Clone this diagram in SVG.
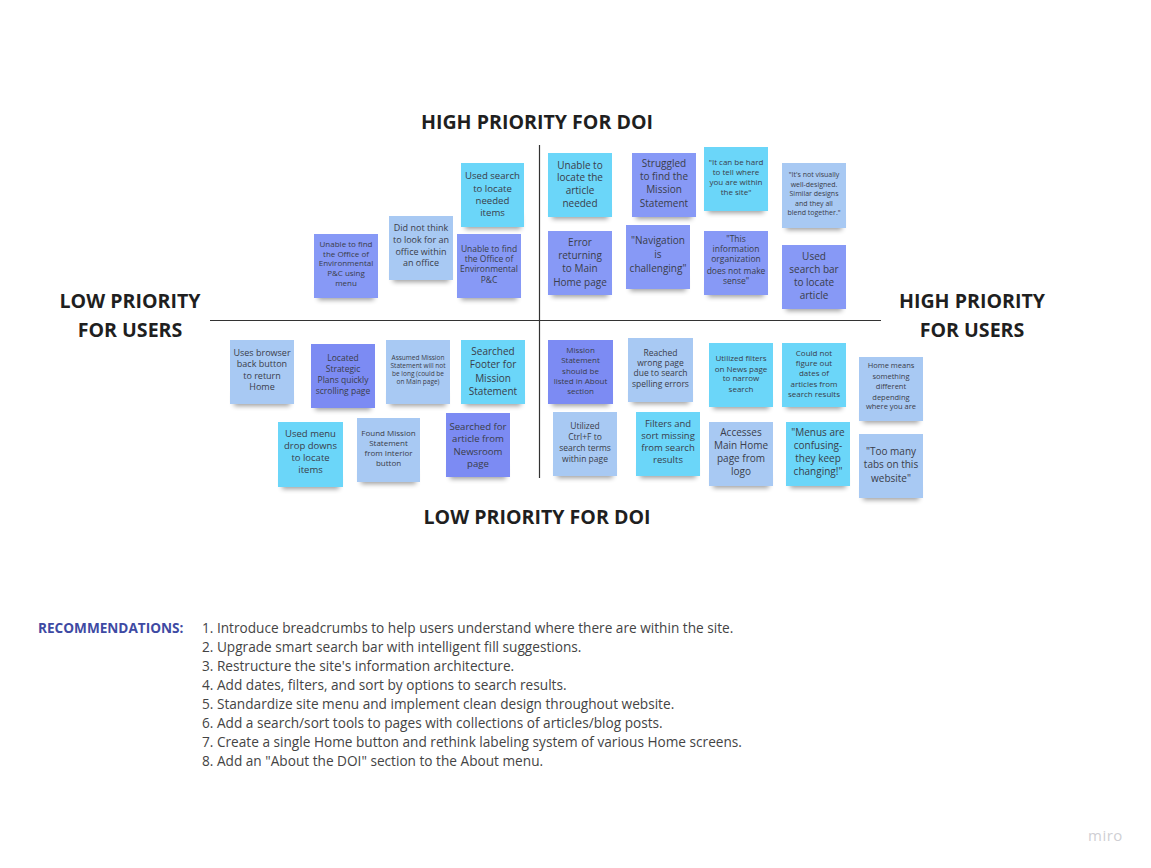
<svg xmlns="http://www.w3.org/2000/svg" width="1151" height="868" viewBox="0 0 1151 868">
<defs>
<filter id="blur" x="-30%" y="-100%" width="160%" height="300%"><feGaussianBlur stdDeviation="2.6"/></filter>
</defs>
<style>
.sh{fill:#000;opacity:.38;filter:url(#blur)}
.c{fill:#6bd6f9}
.v{fill:#8799f6}
.v2{fill:#7c8bf3}
.l{fill:#a8c9f3}
.t{font-family:"Open Sans","Noto Sans","Liberation Sans",sans-serif;fill:#3a3d4a;text-anchor:middle}
.hd{font-family:"Open Sans","Noto Sans","Liberation Sans",sans-serif;font-weight:700;fill:#1f1f1f;text-anchor:middle;font-size:19.6px}
.rec{font-family:"Open Sans","Noto Sans","Liberation Sans",sans-serif;fill:#444;font-size:13.65px}
.axis{stroke:#333;stroke-width:1.2;fill:none}
</style>
<rect width="1151" height="868" fill="#ffffff"/>

<g id="connectors">
<line class="axis" x1="539.5" y1="145" x2="539.5" y2="478"/>
<line class="axis" x1="210" y1="320.5" x2="881" y2="320.5"/>
</g>

<g id="labels">
<text class="hd" x="537" y="129">HIGH PRIORITY FOR DOI</text>
<text class="hd" x="537" y="524">LOW PRIORITY FOR DOI</text>
<text class="hd" x="130" y="308">LOW PRIORITY</text>
<text class="hd" x="130" y="337">FOR USERS</text>
<text class="hd" x="972" y="308">HIGH PRIORITY</text>
<text class="hd" x="972" y="337">FOR USERS</text>
</g>

<g id="n1"><rect class="sh" x="318" y="286" width="56" height="14"/><rect class="v" x="314" y="234" width="64" height="64"/>
<text class="t" font-size="8" x="346"><tspan x="346" y="247">Unable to find</tspan><tspan x="346" y="257">the Office of</tspan><tspan x="346" y="266">Environmental</tspan><tspan x="346" y="276">P&amp;C using</tspan><tspan x="346" y="286">menu</tspan></text></g>

<g id="n2"><rect class="sh" x="393" y="268" width="56" height="14"/><rect class="l" x="389" y="216" width="64" height="64"/>
<text class="t" font-size="9"><tspan x="421" y="231">Did not think</tspan><tspan x="421" y="243">to look for an</tspan><tspan x="421" y="255">office within</tspan><tspan x="421" y="266">an office</tspan></text></g>

<g id="n3"><rect class="sh" x="465" y="215" width="56" height="14"/><rect class="c" x="461" y="163" width="63" height="64"/>
<text class="t" font-size="9.6"><tspan x="492.5" y="178.5">Used search</tspan><tspan x="492.5" y="191.5">to locate</tspan><tspan x="492.5" y="203.5">needed</tspan><tspan x="492.5" y="215.5">items</tspan></text></g>

<g id="n4"><rect class="sh" x="461" y="286" width="56" height="14"/><rect class="v" x="457" y="234" width="64" height="64"/>
<text class="t" font-size="8.5"><tspan x="489" y="252">Unable to find</tspan><tspan x="489" y="262">the Office of</tspan><tspan x="489" y="272">Environmental</tspan><tspan x="489" y="283">P&amp;C</tspan></text></g>

<g id="n5"><rect class="sh" x="552" y="205" width="56" height="14"/><rect class="c" x="548" y="153" width="64" height="64"/>
<text class="t" font-size="10"><tspan x="580" y="168.5">Unable to</tspan><tspan x="580" y="180.5">locate the</tspan><tspan x="580" y="193.5">article</tspan><tspan x="580" y="206.5">needed</tspan></text></g>

<g id="n6"><rect class="sh" x="636" y="205" width="56" height="14"/><rect class="v" x="632" y="153" width="64" height="64"/>
<text class="t" font-size="10"><tspan x="664" y="166.5">Struggled</tspan><tspan x="664" y="179.5">to find the</tspan><tspan x="664" y="192.5">Mission</tspan><tspan x="664" y="206.5">Statement</tspan></text></g>

<g id="n7"><rect class="sh" x="552" y="283" width="56" height="14"/><rect class="v" x="548" y="231" width="64" height="64"/>
<text class="t" font-size="10"><tspan x="580" y="245.5">Error</tspan><tspan x="580" y="258.5">returning</tspan><tspan x="580" y="271.5">to Main</tspan><tspan x="580" y="285.5">Home page</tspan></text></g>

<g id="n8"><rect class="sh" x="630" y="277" width="56" height="14"/><rect class="v" x="626" y="225" width="64" height="64"/>
<text class="t" font-size="10"><tspan x="658" y="243.5">"Navigation</tspan><tspan x="658" y="257.5">is</tspan><tspan x="658" y="271.5">challenging"</tspan></text></g>

<g id="n9"><rect class="sh" x="708" y="199" width="56" height="14"/><rect class="c" x="704" y="147" width="64" height="64"/>
<text class="t" font-size="8"><tspan x="736" y="164.5">"It can be hard</tspan><tspan x="736" y="174.5">to tell where</tspan><tspan x="736" y="184.5">you are within</tspan><tspan x="736" y="194.5">the site"</tspan></text></g>

<g id="n10"><rect class="sh" x="786" y="216" width="56" height="14"/><rect class="l" x="782" y="163" width="64" height="65"/>
<text class="t" font-size="7"><tspan x="814" y="176.5">"It's not visually</tspan><tspan x="814" y="186.5">well-designed.</tspan><tspan x="814" y="195.5">Similar designs</tspan><tspan x="814" y="205.5">and they all</tspan><tspan x="814" y="214.5">blend together."</tspan></text></g>

<g id="n11"><rect class="sh" x="708" y="283" width="56" height="14"/><rect class="v" x="704" y="231" width="64" height="64"/>
<text class="t" font-size="8.5"><tspan x="736" y="242">"This</tspan><tspan x="736" y="252">information</tspan><tspan x="736" y="262">organization</tspan><tspan x="736" y="274">does not make</tspan><tspan x="736" y="284">sense"</tspan></text></g>

<g id="n12"><rect class="sh" x="786" y="297" width="56" height="14"/><rect class="v" x="782" y="245" width="64" height="64"/>
<text class="t" font-size="10"><tspan x="814" y="259.5">Used</tspan><tspan x="814" y="272.5">search bar</tspan><tspan x="814" y="285.5">to locate</tspan><tspan x="814" y="298.5">article</tspan></text></g>

<g id="n13"><rect class="sh" x="234" y="392" width="56" height="14"/><rect class="l" x="230" y="340" width="64" height="64"/>
<text class="t" font-size="9"><tspan x="262" y="356">Uses browser</tspan><tspan x="262" y="367">back button</tspan><tspan x="262" y="379">to return</tspan><tspan x="262" y="390">Home</tspan></text></g>

<g id="n14"><rect class="sh" x="315" y="396" width="56" height="14"/><rect class="v2" x="311" y="344" width="64" height="64"/>
<text class="t" font-size="8.5"><tspan x="343" y="361">Located</tspan><tspan x="343" y="372">Strategic</tspan><tspan x="343" y="383">Plans quickly</tspan><tspan x="343" y="394">scrolling page</tspan></text></g>

<g id="n15"><rect class="sh" x="282" y="475" width="57" height="14"/><rect class="c" x="278" y="422" width="65" height="65"/>
<text class="t" font-size="9.5"><tspan x="310.5" y="437">Used menu</tspan><tspan x="310.5" y="449">drop downs</tspan><tspan x="310.5" y="461">to locate</tspan><tspan x="310.5" y="473">items</tspan></text></g>

<g id="n16"><rect class="sh" x="361" y="470" width="55" height="14"/><rect class="l" x="357" y="418" width="63" height="64"/>
<text class="t" font-size="8"><tspan x="388.5" y="436">Found Mission</tspan><tspan x="388.5" y="446">Statement</tspan><tspan x="388.5" y="456">from Interior</tspan><tspan x="388.5" y="466">button</tspan></text></g>

<g id="n17"><rect class="sh" x="390" y="392" width="56" height="14"/><rect class="l" x="386" y="340" width="64" height="64"/>
<text class="t" font-size="6.5"><tspan x="418" y="360">Assumed Mission</tspan><tspan x="418" y="368">Statement will not</tspan><tspan x="418" y="376">be long (could be</tspan><tspan x="418" y="384">on Main page)</tspan></text></g>

<g id="n18"><rect class="sh" x="465" y="392" width="56" height="14"/><rect class="c" x="461" y="340" width="64" height="64"/>
<text class="t" font-size="10"><tspan x="493" y="354.5">Searched</tspan><tspan x="493" y="367.5">Footer for</tspan><tspan x="493" y="381.5">Mission</tspan><tspan x="493" y="394.5">Statement</tspan></text></g>

<g id="n19"><rect class="sh" x="450" y="465" width="56" height="14"/><rect class="v2" x="446" y="413" width="64" height="64"/>
<text class="t" font-size="9.6"><tspan x="478" y="429.5">Searched for</tspan><tspan x="478" y="441.5">article from</tspan><tspan x="478" y="454.5">Newsroom</tspan><tspan x="478" y="466.5">page</tspan></text></g>

<g id="n20"><rect class="sh" x="552" y="392" width="57" height="14"/><rect class="v2" x="548" y="340" width="65" height="64"/>
<text class="t" font-size="8"><tspan x="580.5" y="353">Mission</tspan><tspan x="580.5" y="363">Statement</tspan><tspan x="580.5" y="374">should be</tspan><tspan x="580.5" y="384">listed in About</tspan><tspan x="580.5" y="394">section</tspan></text></g>

<g id="n21"><rect class="sh" x="632" y="390" width="57" height="14"/><rect class="l" x="628" y="338" width="65" height="64"/>
<text class="t" font-size="8.5"><tspan x="660.5" y="356">Reached</tspan><tspan x="660.5" y="366">wrong page</tspan><tspan x="660.5" y="376">due to search</tspan><tspan x="660.5" y="387">spelling errors</tspan></text></g>

<g id="n22"><rect class="sh" x="557" y="464" width="56" height="14"/><rect class="l" x="553" y="412" width="64" height="64"/>
<text class="t" font-size="8.5"><tspan x="585" y="429">Utilized</tspan><tspan x="585" y="440">Ctrl+F to</tspan><tspan x="585" y="451">search terms</tspan><tspan x="585" y="462">within page</tspan></text></g>

<g id="n23"><rect class="sh" x="640" y="464" width="56" height="14"/><rect class="c" x="636" y="412" width="64" height="64"/>
<text class="t" font-size="9.5"><tspan x="668" y="427">Filters and</tspan><tspan x="668" y="439">sort missing</tspan><tspan x="668" y="451">from search</tspan><tspan x="668" y="463">results</tspan></text></g>

<g id="n24"><rect class="sh" x="713" y="395" width="56" height="14"/><rect class="c" x="709" y="343" width="64" height="64"/>
<text class="t" font-size="8"><tspan x="741" y="361">Utilized filters</tspan><tspan x="741" y="372">on News page</tspan><tspan x="741" y="381">to narrow</tspan><tspan x="741" y="392">search</tspan></text></g>

<g id="n25"><rect class="sh" x="786" y="395" width="56" height="14"/><rect class="c" x="782" y="343" width="64" height="64"/>
<text class="t" font-size="8"><tspan x="814" y="356">Could not</tspan><tspan x="814" y="366">figure out</tspan><tspan x="814" y="376">dates of</tspan><tspan x="814" y="387">articles from</tspan><tspan x="814" y="397">search results</tspan></text></g>

<g id="n26"><rect class="sh" x="863" y="409" width="56" height="14"/><rect class="l" x="859" y="357" width="64" height="64"/>
<text class="t" font-size="7.5"><tspan x="891" y="368">Home means</tspan><tspan x="891" y="379">something</tspan><tspan x="891" y="389">different</tspan><tspan x="891" y="400">depending</tspan><tspan x="891" y="409">where you are</tspan></text></g>

<g id="n27"><rect class="sh" x="713" y="474" width="56" height="14"/><rect class="l" x="709" y="422" width="64" height="64"/>
<text class="t" font-size="10"><tspan x="741" y="435.5">Accesses</tspan><tspan x="741" y="448.5">Main Home</tspan><tspan x="741" y="461.5">page from</tspan><tspan x="741" y="474.5">logo</tspan></text></g>

<g id="n28"><rect class="sh" x="790" y="474" width="56" height="14"/><rect class="c" x="786" y="422" width="64" height="64"/>
<text class="t" font-size="10"><tspan x="818" y="435.5">"Menus are</tspan><tspan x="818" y="448.5">confusing-</tspan><tspan x="818" y="461.5">they keep</tspan><tspan x="818" y="474.5">changing!"</tspan></text></g>

<g id="n29"><rect class="sh" x="863" y="486" width="56" height="14"/><rect class="l" x="859" y="434" width="64" height="64"/>
<text class="t" font-size="10"><tspan x="891" y="454.5">"Too many</tspan><tspan x="891" y="467.5">tabs on this</tspan><tspan x="891" y="481.5">website"</tspan></text></g>

<g id="recommendations">
<text x="38" y="633" font-family="'Open Sans','Noto Sans','Liberation Sans',sans-serif" font-weight="700" font-size="13.6" fill="#3e4aa3">RECOMMENDATIONS:</text>
<text class="rec"><tspan x="202" y="633">1. Introduce breadcrumbs to help users understand where there are within the site.</tspan><tspan x="202" y="652">2. Upgrade smart search bar with intelligent fill suggestions.</tspan><tspan x="202" y="671">3. Restructure the site's information architecture.</tspan><tspan x="202" y="690">4. Add dates, filters, and sort by options to search results.</tspan><tspan x="202" y="709">5. Standardize site menu and implement clean design throughout website.</tspan><tspan x="202" y="728">6. Add a search/sort tools to pages with collections of articles/blog posts.</tspan><tspan x="202" y="747">7. Create a single Home button and rethink labeling system of various Home screens.</tspan><tspan x="202" y="766">8. Add an "About the DOI" section to the About menu.</tspan></text>
</g>

<text x="1088" y="841" font-family="'Open Sans','Noto Sans','Liberation Sans',sans-serif" font-size="15" fill="#cfcfd4" letter-spacing="0.5">miro</text>
</svg>
